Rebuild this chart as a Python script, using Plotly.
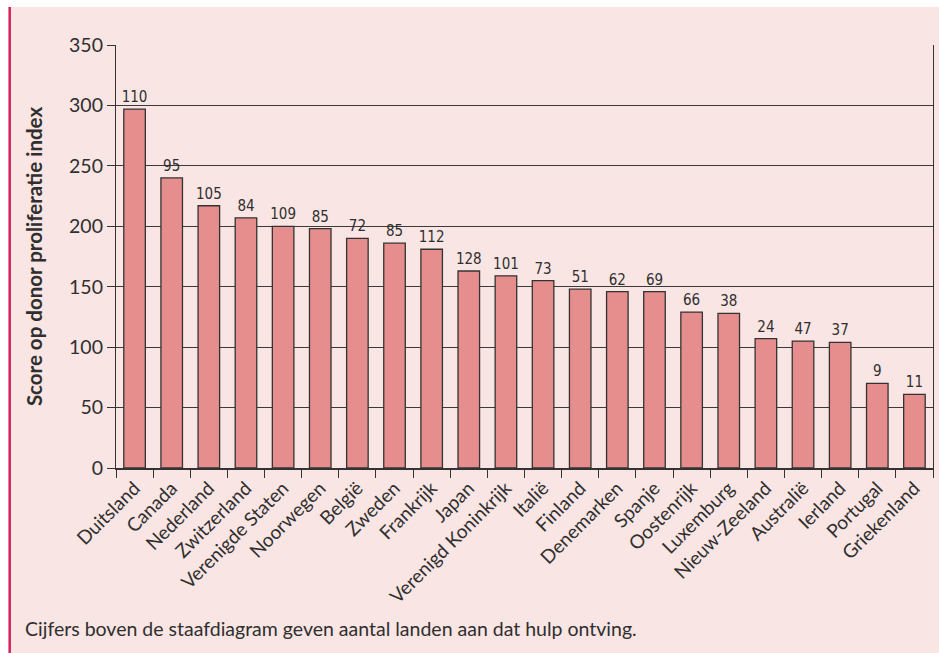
import plotly.graph_objects as go

countries = ["Duitsland", "Canada", "Nederland", "Zwitzerland", "Verenigde Staten", "Noorwegen",
             "België", "Zweden", "Frankrijk", "Japan", "Verenigd Koninkrijk", "Italië", "Finland",
             "Denemarken", "Spanje", "Oostenrijk", "Luxemburg", "Nieuw-Zeeland", "Australië",
             "Ierland", "Portugal", "Griekenland"]
scores = [297, 240, 217, 207, 200, 198, 190, 186, 181, 163, 159, 155, 148,
          146, 146, 129, 128, 107, 105, 104, 70, 61]
recipients = [110, 95, 105, 84, 109, 85, 72, 85, 112, 128, 101, 73, 51,
              62, 69, 66, 38, 24, 47, 37, 9, 11]

W, H = 939, 653
L, R, T, B = 116, 6, 45, 185
PW, PH = W - L - R, H - T - B

def px(x):
    return (x - L) / PW

def py(y):
    return (H - B - y) / PH

PINK = "#F9E5E3"
TXT = "#2f2f2f"
FONT = "Lato, Open Sans, sans-serif"

fig = go.Figure(go.Bar(
    x=countries, y=scores,
    text=[str(v) for v in recipients],
    textposition="outside",
    constraintext="none",
    textfont=dict(family="Liberation Sans Narrow, DejaVu Sans Condensed, sans-serif", size=15, color=TXT),
    cliponaxis=False,
    marker=dict(color="#E68E8D", line=dict(color="#333333", width=1.3)),
    width=0.58,
))

fig.update_layout(
    width=W, height=H,
    margin=dict(l=L, r=R, t=T, b=B, pad=0, autoexpand=False),
    paper_bgcolor=PINK, plot_bgcolor=PINK,
    showlegend=False,
    font=dict(family=FONT, color=TXT),
    shapes=[
        dict(type="rect", xref="paper", yref="paper", x0=px(-5), x1=px(W + 5), y0=py(-5), y1=py(7),
             fillcolor="white", line=dict(width=0), layer="above"),
        dict(type="rect", xref="paper", yref="paper", x0=px(-5), x1=px(8.5), y0=py(H + 5), y1=py(-5),
             fillcolor="white", line=dict(width=0), layer="above"),
        dict(type="line", xref="paper", yref="paper", x0=px(9.7), x1=px(9.7), y0=py(H + 5), y1=py(7),
             line=dict(color="#D6235F", width=2.5), layer="above"),
    ],
    annotations=[
        dict(text="Cijfers boven de staafdiagram geven aantal landen aan dat hulp ontving.",
             xref="paper", yref="paper", x=px(23), y=py(628), xanchor="left", yanchor="middle",
             showarrow=False, font=dict(family=FONT, size=19.5, color=TXT)),
    ],
)

fig.update_xaxes(
    type="category", tickangle=-45, tickson="boundaries", ticks="outside", ticklen=8,
    tickcolor="#333333", tickwidth=1.2,
    showline=True, linecolor="#333333", linewidth=1.5,
    showgrid=False, tickfont=dict(family=FONT, size=19, color=TXT),
)
fig.update_yaxes(
    range=[0, 350], dtick=50, ticks="outside", ticklen=8, tickcolor="#333333", tickwidth=1.2,
    showline=True, linecolor="#333333", linewidth=1.2, mirror=True,
    showgrid=True, gridcolor="#3a3a3a", gridwidth=1, zeroline=False,
    tickfont=dict(family=FONT, size=19.5, color=TXT),
    title=dict(text="<b>Score op donor proliferatie index</b>", standoff=20,
               font=dict(family=FONT, size=20.5, color=TXT)),
)

fig.write_html("out.html", config={"displayModeBar": False},
               post_script="document.body.style.margin='0';document.body.style.padding='0';")
